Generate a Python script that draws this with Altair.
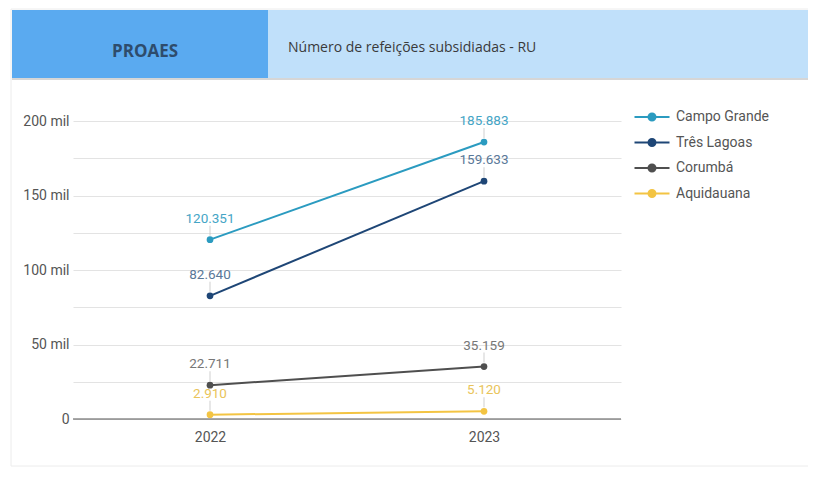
import altair as alt
import pandas as pd

years = ["2022", "2023"]
campi = ["Campo Grande", "Três Lagoas", "Corumbá", "Aquidauana"]
campo_grande = [120351, 185883]
tres_lagoas = [82640, 159633]
corumba = [22711, 35159]
aquidauana = [2910, 5120]

line_colors = ["#2b9bc0", "#1e4676", "#4f4f4f", "#f3c443"]
label_colors = ["#45a5c6", "#5a7898", "#777777", "#e9c45a"]

series = [campo_grande, tres_lagoas, corumba, aquidauana]
rows = []
for name, vals, lc in zip(campi, series, label_colors):
    for y, v in zip(years, vals):
        rows.append({"Ano": y, "Campus": name, "Valor": v,
                     "Rotulo": f"{v:,}".replace(",", "."), "Cor": lc})
df = pd.DataFrame(rows)

header_title = "PROAES"
header_sub = "Número de refeições subsidiadas - RU"

FONT = "Roboto"
dummy = pd.DataFrame({"a": [0]})

x_enc = alt.X("Ano:N", sort=years, scale=alt.Scale(type="point", padding=0.5),
              axis=alt.Axis(title=None, labelAngle=0, domain=False, ticks=False,
                            grid=False, labelPadding=11, labelFontSize=14,
                            labelColor="#555555", labelFont=FONT))
y_axis = alt.Axis(title=None, values=list(range(0, 200001, 25000)),
                  labelExpr="datum.value % 50000 != 0 ? '' : (datum.value == 0 ? '0' : (datum.value/1000) + ' mil')",
                  domain=False, ticks=False, grid=True, gridColor="#e3e3e3",
                  gridOpacity=1, gridWidth=1,
                  labelPadding=4, labelFontSize=14, labelColor="#555555",
                  labelFont=FONT)
y_scale = alt.Scale(domain=[0, 200000], nice=False)
y_enc = alt.Y("Valor:Q", scale=y_scale, axis=y_axis)

color = alt.Color("Campus:N", sort=campi,
                  scale=alt.Scale(domain=campi, range=line_colors),
                  legend=alt.Legend(title=None, orient="none", legendX=572, legendY=-11,
                                    symbolType="M-3.5,0L3.5,0M-0.7,0A0.7,0.7 0 1,0 0.7,0A0.7,0.7 0 1,0 -0.7,0",
                                    symbolSize=100, symbolStrokeWidth=2,
                                    labelOffset=17, rowPadding=9.5,
                                    labelFontSize=14, labelColor="#555555",
                                    labelFont=FONT))

base = alt.Chart(df)

zero = alt.Chart(dummy).mark_rule(color="#555555", strokeWidth=1.2).encode(
    y=alt.datum(0, scale=y_scale, axis=y_axis))

lines = base.mark_line(strokeWidth=2).encode(x=x_enc, y=y_enc, color=color)
points = base.mark_point(filled=True, size=45, opacity=1).encode(
    x=x_enc, y=y_enc,
    color=alt.Color("Campus:N", sort=campi, scale=alt.Scale(domain=campi, range=line_colors), legend=None))
leaders = base.mark_tick(orient="vertical", size=10, thickness=1, yOffset=-9, color="#bbbbbb").encode(x=x_enc, y=y_enc)
labels = base.mark_text(dy=-21, fontSize=13.5, font=FONT).encode(
    x=x_enc, y=y_enc, text="Rotulo:N", color=alt.Color("Cor:N", scale=None))

card = alt.Chart(dummy).mark_rect(fill="#ffffff", fillOpacity=0, stroke="#ececec", strokeWidth=1).encode(
    x=alt.value(-62), x2=alt.value(745), y=alt.value(-112), y2=alt.value(345))
shadow = alt.Chart(dummy).mark_rect(fill="#d6d6d6").encode(
    x=alt.value(-61), x2=alt.value(745), y=alt.value(-43), y2=alt.value(-41))
dark = alt.Chart(dummy).mark_rect(fill="#5aaaf0").encode(
    x=alt.value(-61), x2=alt.value(195), y=alt.value(-111), y2=alt.value(-43))
light = alt.Chart(dummy).mark_rect(fill="#c0e0fa").encode(
    x=alt.value(195), x2=alt.value(745), y=alt.value(-111), y2=alt.value(-43))
t1 = alt.Chart(dummy).mark_text(text=header_title, font="Open Sans", fontSize=17,
                                fontWeight="bold", color="#2e4c6c", align="center",
                                baseline="middle").encode(x=alt.value(72), y=alt.value(-69))
t2 = alt.Chart(dummy).mark_text(text=header_sub, font="Open Sans", fontSize=14,
                                color="#3a3a3a", align="left",
                                baseline="middle").encode(x=alt.value(215), y=alt.value(-73))

chart = alt.layer(card, shadow, dark, light, t1, t2, zero, lines, leaders, points, labels).properties(
    width=548, height=298,
    padding={"left": 65, "top": 113, "right": 187, "bottom": 51},
    autosize=alt.AutoSizeParams(type="none"),
    background="#ffffff",
).configure_view(stroke=None)

chart.save("out.html", embed_options={"renderer": "svg", "actions": False})
